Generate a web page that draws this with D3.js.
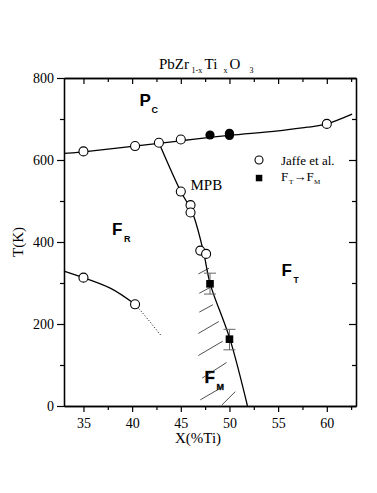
<!DOCTYPE html>
<html>
<head>
<meta charset="utf-8">
<script src="https://cdn.jsdelivr.net/npm/d3@7"></script>
<style>
  body { margin: 0; background: #fff; }
</style>
</head>
<body>
<svg id="chart" width="377" height="493"></svg>
<script>
var SERIF = "'Liberation Serif', 'DejaVu Serif', serif";
var SANS = "'Liberation Sans', Arial, sans-serif";

// tick values
var xMajor = [35, 40, 45, 50, 55, 60];
var xMinor = [37.5, 42.5, 47.5, 52.5, 57.5, 62.5];
var yMajor = [0, 200, 400, 600, 800];
var yMinor = [100, 300, 500, 700];

// Jaffe et al. (open circles), [x, T]
var jaffe = [[35, 621], [40.3, 634], [42.75, 642], [45, 650], [60, 688],
             [45, 523], [46, 490], [46, 472], [47, 379], [47.6, 371],
             [35, 313], [40.3, 248]];
// filled circles on the cubic boundary
var filledPts = [[48, 661], [50, 660], [50, 665]];
// F_T -> F_M transitions, [x, T, Thigh, Tlow]
var ftfm = [[48, 298, 324, 273], [50, 163, 187, 137]];

// boundary lines
var curieLine = [[33, 616], [35, 620], [40, 633], [45, 647], [50, 660], [55, 671], [58, 680], [60, 688], [62.6, 712]];
var mpbLine = [[42.75, 642], [45, 523], [46.17, 473], [47.3, 379], [48.02, 298], [50.05, 163], [51.85, 0]];
var rhombLine = [[33, 329], [35, 313], [37.8, 287], [40.3, 248]];
var rhombDotted = [[40.3, 248], [41.6, 212], [43, 171]];

// hatching of the F_M region, each [[x1,T1],[x2,T2]]
var hatch = [
  [[46.8, 322], [47.9, 336]],
  [[46.9, 275], [48.0, 289]],
  [[46.9, 229], [48.3, 247]],
  [[46.8, 177], [48.9, 206]],
  [[46.8, 123], [49.3, 158]],
  [[47.2, 68], [49.7, 106]],
  [[47.0, 15], [49.4, 48]],
  [[49.2, 2], [50.6, 35]]
];

var svg = d3.select("#chart");
var plot = { left: 64, right: 356, top: 78, bottom: 406 };

var x = d3.scaleLinear().domain([33, 63]).range([plot.left, plot.right]);
var y = d3.scaleLinear().domain([0, 800]).range([plot.bottom, plot.top]);

// axes
function styleAxis(g) {
    g.attr("font-family", SERIF).attr("font-size", 14);
    g.select(".domain").attr("stroke", "#000").attr("stroke-width", 1.3);
    g.selectAll(".tick line").attr("stroke", "#000").attr("stroke-width", 1.2);
    g.selectAll(".tick text").style("font-family", SERIF).attr("font-size", 14).attr("fill", "#000");
}

svg.append("g").attr("transform", `translate(0,${plot.bottom})`)
    .call(d3.axisBottom(x).tickValues(xMajor).tickSize(6).tickPadding(6).tickSizeOuter(0).tickFormat(d3.format("d")))
    .call(styleAxis);
svg.append("g").attr("transform", `translate(0,${plot.bottom})`)
    .call(d3.axisBottom(x).tickValues(xMinor).tickSize(4).tickFormat("").tickSizeOuter(0))
    .call(styleAxis);
svg.append("g").attr("transform", `translate(0,${plot.top})`)
    .call(d3.axisTop(x).tickValues(xMajor).tickSize(-6).tickFormat("").tickSizeOuter(0))
    .call(styleAxis);
svg.append("g").attr("transform", `translate(0,${plot.top})`)
    .call(d3.axisTop(x).tickValues(xMinor).tickSize(-4).tickFormat("").tickSizeOuter(0))
    .call(styleAxis);

svg.append("g").attr("transform", `translate(${plot.left},0)`)
    .call(d3.axisLeft(y).tickValues(yMajor).tickSize(7).tickPadding(3).tickSizeOuter(0))
    .call(styleAxis);
svg.append("g").attr("transform", `translate(${plot.left},0)`)
    .call(d3.axisLeft(y).tickValues(yMinor).tickSize(4).tickFormat("").tickSizeOuter(0))
    .call(styleAxis);
svg.append("g").attr("transform", `translate(${plot.right},0)`)
    .call(d3.axisRight(y).tickValues(yMajor).tickSize(-7).tickFormat("").tickSizeOuter(0))
    .call(styleAxis);
svg.append("g").attr("transform", `translate(${plot.right},0)`)
    .call(d3.axisRight(y).tickValues(yMinor).tickSize(-4).tickFormat("").tickSizeOuter(0))
    .call(styleAxis);

// axis labels
svg.append("text").style("font-family", SERIF)
    .attr("x", 198).attr("y", 443)
    .attr("text-anchor", "middle").attr("font-size", 15)
    .text("X(%Ti)");
svg.append("text").style("font-family", SERIF)
    .attr("transform", "translate(23,242) rotate(-90)")
    .attr("text-anchor", "middle").attr("font-size", 15)
    .text("T(K)");

// title: PbZr(1-x) Ti(x) O(3)
var titleParts = [
    { t: "PbZr", x: 159, sub: false },
    { t: "1-x", x: 191.5, sub: true },
    { t: "Ti", x: 204.5, sub: false },
    { t: "x", x: 223.5, sub: true },
    { t: "O", x: 229.5, sub: false },
    { t: "3", x: 249.5, sub: true }
];
svg.append("g").selectAll("text").data(titleParts).enter().append("text")
    .style("font-family", SERIF)
    .attr("x", d => d.x).attr("y", d => d.sub ? 73 : 69)
    .attr("font-size", d => d.sub ? 8 : 15)
    .text(d => d.t);

// hatching
svg.append("g").selectAll("line")
    .data(hatch)
    .enter().append("line")
    .attr("x1", d => x(d[0][0])).attr("y1", d => y(d[0][1]))
    .attr("x2", d => x(d[1][0])).attr("y2", d => y(d[1][1]))
    .attr("stroke", "#222").attr("stroke-width", 0.8);

// lines
var line = d3.line().x(d => x(d[0])).y(d => y(d[1]));
svg.append("path").datum(curieLine)
    .attr("d", line.curve(d3.curveNatural))
    .attr("fill", "none").attr("stroke", "#000").attr("stroke-width", 1.3);
svg.append("path").datum(mpbLine)
    .attr("d", line.curve(d3.curveCatmullRom))
    .attr("fill", "none").attr("stroke", "#000").attr("stroke-width", 1.3);
svg.append("path").datum(rhombLine)
    .attr("d", line.curve(d3.curveNatural))
    .attr("fill", "none").attr("stroke", "#000").attr("stroke-width", 1.3);
svg.append("path").datum(rhombDotted)
    .attr("d", line.curve(d3.curveNatural))
    .attr("fill", "none").attr("stroke", "#000").attr("stroke-width", 1)
    .attr("stroke-dasharray", "1,2");

// error bars
var eb = svg.append("g").selectAll("g").data(ftfm).enter().append("g");
eb.append("line")
    .attr("x1", d => x(d[0])).attr("x2", d => x(d[0]))
    .attr("y1", d => y(d[2])).attr("y2", d => y(d[3]))
    .attr("stroke", "#666").attr("stroke-width", 1);
eb.selectAll(".cap").data(d => [[d[0], d[2]], [d[0], d[3]]])
    .enter().append("line").attr("class", "cap")
    .attr("x1", d => x(d[0]) - 6).attr("x2", d => x(d[0]) + 6)
    .attr("y1", d => y(d[1])).attr("y2", d => y(d[1]))
    .attr("stroke", "#666").attr("stroke-width", 1);

// markers
svg.append("g").selectAll("circle").data(jaffe).enter().append("circle")
    .attr("cx", d => x(d[0])).attr("cy", d => y(d[1])).attr("r", 4.5)
    .attr("fill", "#fff").attr("stroke", "#000").attr("stroke-width", 1.1);
svg.append("g").selectAll("circle").data(filledPts).enter().append("circle")
    .attr("cx", d => x(d[0])).attr("cy", d => y(d[1])).attr("r", 4.6)
    .attr("fill", "#000");
svg.append("g").selectAll("rect").data(ftfm).enter().append("rect")
    .attr("x", d => x(d[0]) - 3.8).attr("y", d => y(d[1]) - 3.8)
    .attr("width", 7.6).attr("height", 7.6).attr("fill", "#000");

// phase labels
function phaseLabel(px, py, main, sub, subSize) {
    var g = svg.append("g").style("font-family", SANS).attr("font-weight", "bold");
    g.append("text").attr("x", px).attr("y", py).attr("font-size", 17).text(main);
    g.append("text").attr("x", px + 12).attr("y", py + 6.5).attr("font-size", subSize).text(sub);
    return g;
}
phaseLabel(139.5, 106, "P", "C", 9);
phaseLabel(112, 235, "F", "R", 9);
phaseLabel(281.5, 276, "F", "T", 8.5);
phaseLabel(204.5, 383, "F", "M", 9)
    .attr("stroke", "#888").attr("stroke-width", 0.6).attr("paint-order", "stroke");

svg.append("text").style("font-family", SERIF)
    .attr("x", 190.5).attr("y", 190).attr("font-size", 15)
    .text("MPB");

// legend
var leg = svg.append("g").attr("transform", "translate(259,160)");
leg.append("circle").attr("r", 4).attr("fill", "#fff").attr("stroke", "#000").attr("stroke-width", 1.1);
leg.append("text").style("font-family", SERIF).attr("x", 22).attr("y", 4.5).attr("font-size", 13).text("Jaffe et al.");
leg.append("rect").attr("x", -3.2).attr("y", 14.8).attr("width", 6.5).attr("height", 6.5).attr("fill", "#000");
var legParts = [
    { t: "F", x: 22, sub: false },
    { t: "T", x: 30, sub: true },
    { t: "\u2192F", x: 34.5, sub: false },
    { t: "M", x: 55, sub: true }
];
leg.selectAll(".lp").data(legParts).enter().append("text").attr("class", "lp")
    .style("font-family", SERIF)
    .attr("x", d => d.x).attr("y", d => d.sub ? 24 : 21)
    .attr("font-size", d => d.sub ? 7 : 13)
    .text(d => d.t);
</script>
</body>
</html>
